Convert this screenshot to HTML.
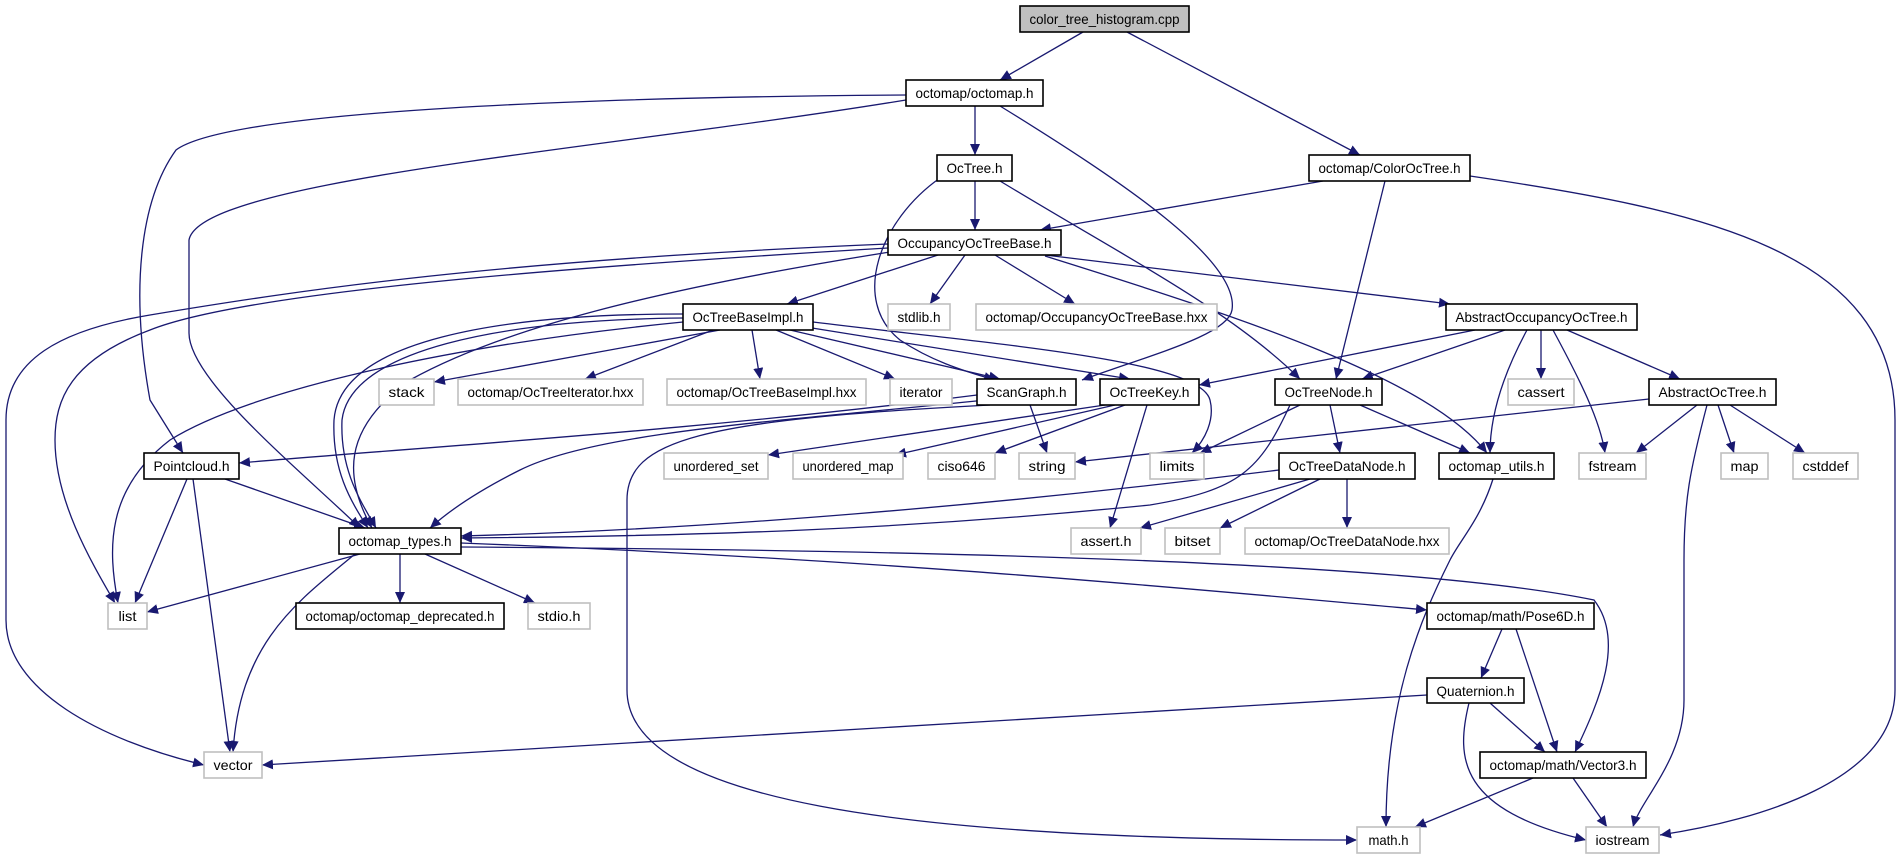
<!DOCTYPE html>
<html><head><meta charset="utf-8"><style>
html,body{margin:0;padding:0;background:#fff;}
svg{display:block;}
text{font-family:"Liberation Sans",sans-serif;font-size:14px;fill:#000;}
.e{fill:none;stroke:#191970;stroke-width:1.3;marker-end:url(#a);}
.n{fill:#fff;stroke:#000;stroke-width:1.6;}
.g{fill:#fff;stroke:#bfbfbf;stroke-width:1.6;}
</style></head><body>
<svg width="1897" height="859" viewBox="0 0 1897 859" xmlns="http://www.w3.org/2000/svg">
<defs><marker id="a" markerUnits="userSpaceOnUse" markerWidth="12" markerHeight="10" refX="11" refY="5" orient="auto"><path d="M0,0 L11,5 L0,10 z" fill="#191970"/></marker></defs>
<g>
<path class="e" d="M1083,32 L1000,80"/>
<path class="e" d="M1127,32 L1360,155"/>
<path class="e" d="M975,106 L975,155"/>
<path class="e" d="M906,95 C600,97 230,110 176,150 C140,200 130,290 150,400 L183,453"/>
<path class="e" d="M906,100 C600,150 200,180 189,240 L189,333 C189,380 300,470 360,528"/>
<path class="e" d="M1000,106 C1120,180 1240,260 1232,310 C1228,335 1150,355 1082,380"/>
<path class="e" d="M975,181 L975,230"/>
<path class="e" d="M940,178 C880,220 850,300 900,340 C930,360 960,370 995,380"/>
<path class="e" d="M1000,181 C1130,260 1230,310 1300,379"/>
<path class="e" d="M1323,181 L1040,230"/>
<path class="e" d="M1385,181 L1336,379"/>
<path class="e" d="M1470,176 C1700,210 1895,250 1895,420 L1895,690 C1895,780 1760,820 1660,835"/>
<path class="e" d="M938,255 L787,304"/>
<path class="e" d="M965,255 L930,304"/>
<path class="e" d="M995,255 L1075,304"/>
<path class="e" d="M1045,255 L1450,304"/>
<path class="e" d="M1045,256 C1250,320 1430,380 1487,453"/>
<path class="e" d="M888,248 C600,265 250,290 150,330 C70,360 55,400 55,440 C55,500 90,560 115,603"/>
<path class="e" d="M888,244 C500,260 300,290 150,315 C60,330 6,360 6,420 L6,620 C6,690 100,740 204,765"/>
<path class="e" d="M890,252 C650,290 500,330 410,380 C340,430 345,480 372,528"/>
<path class="e" d="M720,330 L434,382"/>
<path class="e" d="M713,330 L585,379"/>
<path class="e" d="M752,330 L760,379"/>
<path class="e" d="M776,330 L895,379"/>
<path class="e" d="M790,330 L1000,379"/>
<path class="e" d="M812,328 L1130,379"/>
<path class="e" d="M813,322 C1000,345 1200,360 1210,400 C1215,420 1205,440 1192,453"/>
<path class="e" d="M683,322 C450,345 250,390 170,440 C105,490 108,550 118,603"/>
<path class="e" d="M683,318 C500,320 350,350 342,420 C340,470 360,500 376,528"/>
<path class="e" d="M683,314 C500,314 340,340 334,420 C332,470 350,500 368,528"/>
<path class="e" d="M977,395 C700,430 450,445 239,463"/>
<path class="e" d="M985,400 C800,420 600,430 520,470 C480,490 450,510 430,528"/>
<path class="e" d="M1030,405 L1047,453"/>
<path class="e" d="M990,405 C700,420 627,440 627,500 L627,690 C627,800 900,840 1357,840"/>
<path class="e" d="M1105,405 L768,455"/>
<path class="e" d="M1115,405 L895,455"/>
<path class="e" d="M1125,405 L995,453"/>
<path class="e" d="M1147,405 L1110,528"/>
<path class="e" d="M1300,405 L1200,453"/>
<path class="e" d="M1290,405 C1260,470 1240,490 1150,505 C900,530 700,536 461,538"/>
<path class="e" d="M1279,470 C1000,505 700,530 461,536"/>
<path class="e" d="M461,543 C900,560 1200,590 1427,610"/>
<path class="e" d="M461,547 C900,550 1400,560 1594,600 C1625,640 1600,700 1575,752"/>
<path class="e" d="M1330,405 L1340,453"/>
<path class="e" d="M1360,405 L1470,453"/>
<path class="e" d="M1310,479 L1140,528"/>
<path class="e" d="M1320,479 L1220,528"/>
<path class="e" d="M1347,479 L1347,528"/>
<path class="e" d="M1475,330 L1199,385"/>
<path class="e" d="M1505,330 L1362,379"/>
<path class="e" d="M1527,330 C1500,380 1490,420 1490,453"/>
<path class="e" d="M1541,330 L1541,379"/>
<path class="e" d="M1553,330 C1580,380 1600,420 1605,453"/>
<path class="e" d="M1567,330 L1680,379"/>
<path class="e" d="M1649,399 L1075,462"/>
<path class="e" d="M1697,405 L1636,453"/>
<path class="e" d="M1707,405 C1690,470 1684,500 1684,560 L1684,700 C1684,760 1640,800 1633,827"/>
<path class="e" d="M1718,405 L1734,453"/>
<path class="e" d="M1730,405 L1805,453"/>
<path class="e" d="M1493,479 C1480,520 1460,540 1450,560 C1420,620 1386,700 1386,827"/>
<path class="e" d="M360,554 L147,612"/>
<path class="e" d="M400,554 L400,603"/>
<path class="e" d="M425,554 L535,603"/>
<path class="e" d="M355,554 C300,600 240,640 233,752"/>
<path class="e" d="M187,479 L135,603"/>
<path class="e" d="M193,479 L230,752"/>
<path class="e" d="M225,479 L365,528"/>
<path class="e" d="M1502,629 L1481,678"/>
<path class="e" d="M1516,629 L1557,752"/>
<path class="e" d="M1427,695 L262,765"/>
<path class="e" d="M1490,703 L1545,752"/>
<path class="e" d="M1469,703 C1455,760 1460,810 1586,840"/>
<path class="e" d="M1533,778 L1415,827"/>
<path class="e" d="M1573,778 L1607,827"/>
</g>
<g>
<rect x="1020" y="6" width="169" height="26" fill="#bfbfbf" stroke="#000" stroke-width="1.6"/><text x="1104.5" y="24" text-anchor="middle" textLength="150" lengthAdjust="spacingAndGlyphs">color_tree_histogram.cpp</text>
<rect class="n" x="906" y="80" width="137" height="26"/><text x="974.5" y="98" text-anchor="middle" textLength="118" lengthAdjust="spacingAndGlyphs">octomap/octomap.h</text>
<rect class="n" x="937" y="155" width="75" height="26"/><text x="974.5" y="173" text-anchor="middle" textLength="56" lengthAdjust="spacingAndGlyphs">OcTree.h</text>
<rect class="n" x="1309" y="155" width="161" height="26"/><text x="1389.5" y="173" text-anchor="middle" textLength="142" lengthAdjust="spacingAndGlyphs">octomap/ColorOcTree.h</text>
<rect class="n" x="888" y="230" width="173" height="25"/><text x="974.5" y="248" text-anchor="middle" textLength="154" lengthAdjust="spacingAndGlyphs">OccupancyOcTreeBase.h</text>
<rect class="n" x="683" y="304" width="130" height="26"/><text x="748" y="322" text-anchor="middle" textLength="111" lengthAdjust="spacingAndGlyphs">OcTreeBaseImpl.h</text>
<rect class="g" x="888" y="304" width="62" height="26"/><text x="919" y="322" text-anchor="middle" textLength="43" lengthAdjust="spacingAndGlyphs">stdlib.h</text>
<rect class="g" x="976" y="304" width="241" height="26"/><text x="1096.5" y="322" text-anchor="middle" textLength="222" lengthAdjust="spacingAndGlyphs">octomap/OccupancyOcTreeBase.hxx</text>
<rect class="n" x="1446" y="304" width="191" height="26"/><text x="1541.5" y="322" text-anchor="middle" textLength="172" lengthAdjust="spacingAndGlyphs">AbstractOccupancyOcTree.h</text>
<rect class="g" x="379" y="379" width="55" height="26"/><text x="406.5" y="397" text-anchor="middle" textLength="36" lengthAdjust="spacingAndGlyphs">stack</text>
<rect class="g" x="458" y="379" width="185" height="26"/><text x="550.5" y="397" text-anchor="middle" textLength="166" lengthAdjust="spacingAndGlyphs">octomap/OcTreeIterator.hxx</text>
<rect class="g" x="667" y="379" width="199" height="26"/><text x="766.5" y="397" text-anchor="middle" textLength="180" lengthAdjust="spacingAndGlyphs">octomap/OcTreeBaseImpl.hxx</text>
<rect class="g" x="890" y="379" width="62" height="26"/><text x="921" y="397" text-anchor="middle" textLength="43" lengthAdjust="spacingAndGlyphs">iterator</text>
<rect class="n" x="977" y="379" width="99" height="26"/><text x="1026.5" y="397" text-anchor="middle" textLength="80" lengthAdjust="spacingAndGlyphs">ScanGraph.h</text>
<rect class="n" x="1100" y="379" width="99" height="26"/><text x="1149.5" y="397" text-anchor="middle" textLength="80" lengthAdjust="spacingAndGlyphs">OcTreeKey.h</text>
<rect class="n" x="1275" y="379" width="107" height="26"/><text x="1328.5" y="397" text-anchor="middle" textLength="88" lengthAdjust="spacingAndGlyphs">OcTreeNode.h</text>
<rect class="g" x="1508" y="379" width="66" height="26"/><text x="1541" y="397" text-anchor="middle" textLength="47" lengthAdjust="spacingAndGlyphs">cassert</text>
<rect class="n" x="1649" y="379" width="127" height="26"/><text x="1712.5" y="397" text-anchor="middle" textLength="108" lengthAdjust="spacingAndGlyphs">AbstractOcTree.h</text>
<rect class="n" x="144" y="453" width="95" height="26"/><text x="191.5" y="471" text-anchor="middle" textLength="76" lengthAdjust="spacingAndGlyphs">Pointcloud.h</text>
<rect class="g" x="664" y="453" width="104" height="26"/><text x="716" y="471" text-anchor="middle" textLength="85" lengthAdjust="spacingAndGlyphs">unordered_set</text>
<rect class="g" x="793" y="453" width="110" height="26"/><text x="848" y="471" text-anchor="middle" textLength="91" lengthAdjust="spacingAndGlyphs">unordered_map</text>
<rect class="g" x="928" y="453" width="67" height="26"/><text x="961.5" y="471" text-anchor="middle" textLength="48" lengthAdjust="spacingAndGlyphs">ciso646</text>
<rect class="g" x="1019" y="453" width="56" height="26"/><text x="1047" y="471" text-anchor="middle" textLength="37" lengthAdjust="spacingAndGlyphs">string</text>
<rect class="g" x="1150" y="453" width="54" height="26"/><text x="1177" y="471" text-anchor="middle" textLength="35" lengthAdjust="spacingAndGlyphs">limits</text>
<rect class="n" x="1279" y="453" width="136" height="26"/><text x="1347" y="471" text-anchor="middle" textLength="117" lengthAdjust="spacingAndGlyphs">OcTreeDataNode.h</text>
<rect class="n" x="1439" y="453" width="115" height="26"/><text x="1496.5" y="471" text-anchor="middle" textLength="96" lengthAdjust="spacingAndGlyphs">octomap_utils.h</text>
<rect class="g" x="1579" y="453" width="67" height="26"/><text x="1612.5" y="471" text-anchor="middle" textLength="48" lengthAdjust="spacingAndGlyphs">fstream</text>
<rect class="g" x="1721" y="453" width="47" height="26"/><text x="1744.5" y="471" text-anchor="middle" textLength="28" lengthAdjust="spacingAndGlyphs">map</text>
<rect class="g" x="1793" y="453" width="65" height="26"/><text x="1825.5" y="471" text-anchor="middle" textLength="46" lengthAdjust="spacingAndGlyphs">cstddef</text>
<rect class="n" x="339" y="528" width="122" height="26"/><text x="400" y="546" text-anchor="middle" textLength="103" lengthAdjust="spacingAndGlyphs">octomap_types.h</text>
<rect class="g" x="1071" y="528" width="70" height="26"/><text x="1106" y="546" text-anchor="middle" textLength="51" lengthAdjust="spacingAndGlyphs">assert.h</text>
<rect class="g" x="1165" y="528" width="55" height="26"/><text x="1192.5" y="546" text-anchor="middle" textLength="36" lengthAdjust="spacingAndGlyphs">bitset</text>
<rect class="g" x="1245" y="528" width="204" height="26"/><text x="1347" y="546" text-anchor="middle" textLength="185" lengthAdjust="spacingAndGlyphs">octomap/OcTreeDataNode.hxx</text>
<rect class="g" x="108" y="603" width="39" height="26"/><text x="127.5" y="621" text-anchor="middle" textLength="18" lengthAdjust="spacingAndGlyphs">list</text>
<rect class="n" x="296" y="603" width="208" height="26"/><text x="400" y="621" text-anchor="middle" textLength="189" lengthAdjust="spacingAndGlyphs">octomap/octomap_deprecated.h</text>
<rect class="g" x="528" y="603" width="62" height="26"/><text x="559" y="621" text-anchor="middle" textLength="43" lengthAdjust="spacingAndGlyphs">stdio.h</text>
<rect class="n" x="1427" y="603" width="167" height="26"/><text x="1510.5" y="621" text-anchor="middle" textLength="148" lengthAdjust="spacingAndGlyphs">octomap/math/Pose6D.h</text>
<rect class="n" x="1427" y="678" width="97" height="25"/><text x="1475.5" y="696" text-anchor="middle" textLength="78" lengthAdjust="spacingAndGlyphs">Quaternion.h</text>
<rect class="n" x="1480" y="752" width="166" height="26"/><text x="1563" y="770" text-anchor="middle" textLength="147" lengthAdjust="spacingAndGlyphs">octomap/math/Vector3.h</text>
<rect class="g" x="204" y="752" width="58" height="26"/><text x="233" y="770" text-anchor="middle" textLength="39" lengthAdjust="spacingAndGlyphs">vector</text>
<rect class="g" x="1357" y="827" width="63" height="26"/><text x="1388.5" y="845" text-anchor="middle" textLength="40" lengthAdjust="spacingAndGlyphs">math.h</text>
<rect class="g" x="1586" y="827" width="73" height="26"/><text x="1622.5" y="845" text-anchor="middle" textLength="54" lengthAdjust="spacingAndGlyphs">iostream</text>
</g>
</svg>
</body></html>
